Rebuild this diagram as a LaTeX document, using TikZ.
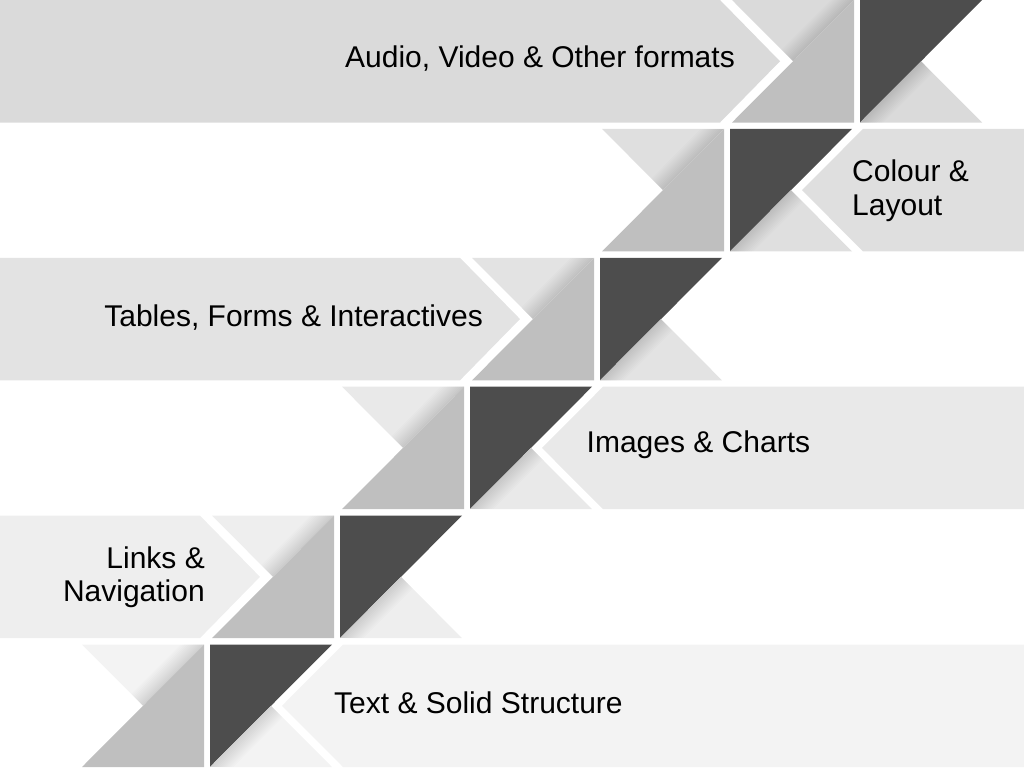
\documentclass[tikz,border=0pt]{standalone}
\usepackage{fontspec}
\setmainfont{Liberation Sans}

\definecolor{rowA}{HTML}{DADADA}
\definecolor{rowB}{HTML}{DFDFDF}
\definecolor{rowC}{HTML}{E3E3E3}
\definecolor{rowD}{HTML}{E9E9E9}
\definecolor{rowE}{HTML}{EEEEEE}
\definecolor{rowF}{HTML}{F3F3F3}
\definecolor{midgray}{HTML}{BFBFBF}
\definecolor{darkgray}{HTML}{4D4D4D}

\tikzset{
  lbl/.style={font=\fontsize{30}{33.5}\selectfont, inner sep=0pt, text=black},
  softshade/.style={black, opacity=0.01},
}

\begin{document}
\begin{tikzpicture}[x=1pt, y=-1pt]
\useasboundingbox (0,0) rectangle (1024,768);

% one staircase step per row: label band, folded square and dark square
\foreach \rr/\cc/\side in {0/rowA/L, 1/rowB/R, 2/rowC/L, 3/rowD/R, 4/rowE/L, 5/rowF/R} {
  \pgfmathsetmacro\yt{128.9*\rr}
  \pgfmathsetmacro\yb{\yt+122.5}
  \pgfmathsetmacro\ym{\yt+61.25}
  \pgfmathsetmacro\dx{860-130*\rr}
  \pgfmathsetmacro\ax{\dx-128}

  % folded square: light top wedge over a mid-grey lower triangle
  \fill[\cc] (\ax,\yt) -- (\ax+122,\yt) -- (\ax+61,\ym) -- cycle;
  \begin{scope}
    \clip (\ax,\yt) -- (\ax+122,\yt) -- (\ax+61,\ym) -- cycle;
    \foreach \w in {3,6,...,33}
      \draw[softshade, line width=\w pt] (\ax+142,\yt-20) -- (\ax+41,\ym+20);
  \end{scope}
  \fill[midgray] (\ax,\yb) -- (\ax+122,\yt) -- (\ax+122,\yb) -- cycle;

  % dark square: dark upper triangle over a light bottom wedge
  \fill[darkgray] (\dx,\yt) -- (\dx+122,\yt) -- (\dx,\yb) -- cycle;
  \fill[\cc] (\dx,\yb) -- (\dx+61,\ym) -- (\dx+122,\yb) -- cycle;
  \begin{scope}
    \clip (\dx,\yb) -- (\dx+61,\ym) -- (\dx+122,\yb) -- cycle;
    \foreach \w in {3,6,...,33}
      \draw[softshade, line width=\w pt] (\dx-20,\yb+20) -- (\dx+81,\ym-20);
  \end{scope}

  % label band: arrow to the left of the squares, or notched band to their right
  \if\side L
    \fill[\cc] (0,\yt) -- (\ax-12,\yt) -- (\ax+48,\ym) -- (\ax-12,\yb) -- (0,\yb) -- cycle;
  \else
    \fill[\cc] (\dx+133,\yt) -- (1024,\yt) -- (1024,\yb) -- (\dx+133,\yb) -- (\dx+72,\ym) -- cycle;
  \fi
}

% labels
\node[lbl, anchor=base east] (audio) at (735,67.3) {Audio, Video \& Other formats};
\node[lbl, anchor=base west] (colour) at (852,181.7)
  {\begin{tabular}[t]{@{}l@{}}Colour \&\\Layout\end{tabular}};
\node[lbl, anchor=base east] (tables) at (483,326) {Tables, Forms \& Interactives};
\node[lbl, anchor=base west] (images) at (586.5,452.5) {Images \& Charts};
\node[lbl, anchor=base east] (links) at (205,568.3)
  {\begin{tabular}[t]{@{}r@{}}Links \&\\Navigation\end{tabular}};
\node[lbl, anchor=base west] (solid) at (334,713.5) {Text \& Solid Structure};
\end{tikzpicture}
\end{document}
